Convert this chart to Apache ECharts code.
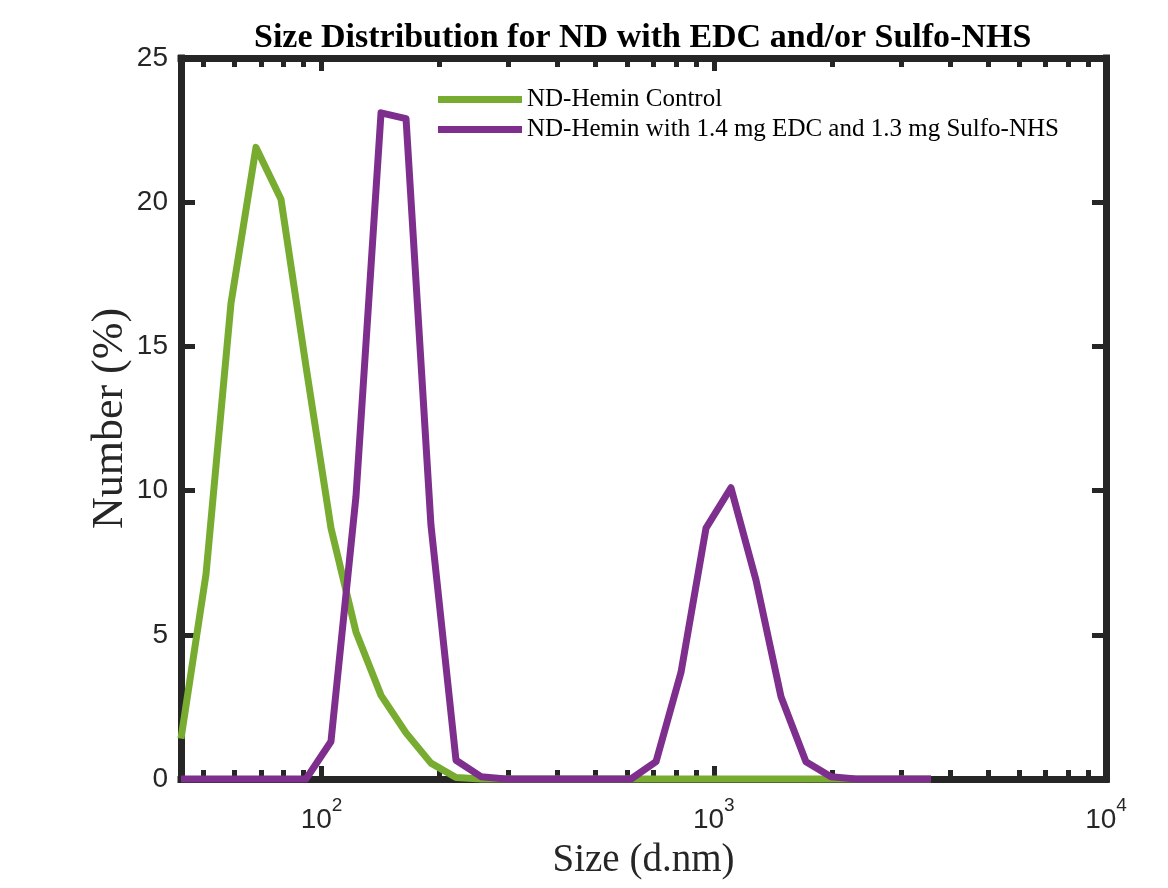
<!DOCTYPE html>
<html lang="en">
<head>
    <meta charset="UTF-8">
    <title>Size Distribution</title>
    <script src="https://cdn.jsdelivr.net/npm/echarts@6/dist/echarts.min.js"></script>
    <style>
        html, body { margin: 0; padding: 0; background: #fff; }
    </style>
</head>
<body>
    <div id="chart" style="width: 1168px; height: 888px;"></div>

    <script>
        // size bins (d.nm) of the instrument
        var sizes = [43.82, 50.75, 58.77, 68.06, 78.82, 91.28, 105.7, 122.4, 141.8, 164.2,
            190.1, 220.2, 255.0, 295.3, 342.0, 396.1, 458.7, 531.2, 615.1, 712.4,
            825.0, 955.4, 1106, 1281, 1484, 1718, 1990, 2305, 2669, 3091, 3580];

        // Number (%) per bin
        var control = [1.4, 7.1, 16.5, 21.9, 20.1, 14.3, 8.7, 5.1, 2.9, 1.6,
            0.55, 0.05, 0, 0, 0, 0, 0, 0, 0, 0,
            0, 0, 0, 0, 0, 0, 0, 0, 0, 0, 0];
        var withEdc = [0, 0, 0, 0, 0, 0, 1.3, 9.8, 23.1, 22.9,
            8.8, 0.65, 0.08, 0, 0, 0, 0, 0, 0, 0.6,
            3.7, 8.7, 10.1, 6.9, 2.85, 0.6, 0.08, 0, 0, 0, 0];

        var seriesNames = ['ND-Hemin Control', 'ND-Hemin with 1.4 mg EDC and 1.3 mg Sulfo-NHS'];

        var majorTicks = [100, 1000, 10000];
        var minorTicks = [50, 60, 70, 80, 90, 200, 300, 400, 500, 600, 700, 800, 900,
            2000, 3000, 4000, 5000, 6000, 7000, 8000, 9000];

        var axisColor = '#262626';
        var xMin = 43.82, xMax = 10000;

        function pairs(ys) {
            return sizes.map(function (s, i) { return [s, ys[i]]; });
        }

        function tickAxis(pos, values, len, showLine, extra) {
            var a = {
                type: 'log',
                logBase: 10,
                position: pos,
                min: xMin,
                max: xMax,
                axisLine: { show: showLine, lineStyle: { color: axisColor, width: 7, cap: 'square' } },
                axisTick: { show: true, inside: true, length: len, customValues: values,
                    lineStyle: { color: axisColor, width: 5 } },
                axisLabel: { show: false },
                splitLine: { show: false },
                minorTick: { show: false }
            };
            return Object.assign(a, extra || {});
        }

        var chart = echarts.init(document.getElementById('chart'));

        var option = {
            animation: false,
            backgroundColor: '#fff',
            title: {
                text: 'Size Distribution for ND with EDC and/or Sulfo-NHS',
                left: 254,
                top: 21,
                padding: 0,
                textStyle: { fontFamily: 'Liberation Serif', fontWeight: 'bold', fontSize: 34, color: '#000' }
            },
            legend: {
                orient: 'vertical',
                left: 438,
                top: 87,
                padding: 0,
                itemWidth: 84,
                itemHeight: 7,
                itemGap: 5,
                icon: 'rect',
                textStyle: { fontFamily: 'Liberation Serif', fontSize: 25, color: '#000', lineHeight: 25 },
                data: seriesNames
            },
            grid: { left: 181, right: 62, top: 58, bottom: 109 },
            xAxis: [
                tickAxis('bottom', majorTicks, 13, true, {
                    name: 'Size (d.nm)',
                    nameLocation: 'middle',
                    nameGap: 62,
                    nameTextStyle: { fontFamily: 'Liberation Serif', fontSize: 39, color: axisColor },
                    axisLabel: {
                        show: true,
                        customValues: majorTicks,
                        margin: 17,
                        formatter: function (v) {
                            return '{b|10}{s|' + Math.round(Math.log10(v)) + '}';
                        },
                        rich: {
                            b: { fontFamily: 'Liberation Sans', fontSize: 28, color: axisColor, verticalAlign: 'bottom', lineHeight: 38 },
                            s: { fontFamily: 'Liberation Sans', fontSize: 19, color: axisColor, verticalAlign: 'top', lineHeight: 38 }
                        }
                    }
                }),
                tickAxis('bottom', minorTicks, 9, false),
                tickAxis('top', majorTicks, 13, true),
                tickAxis('top', minorTicks, 9, false)
            ],
            yAxis: [
                {
                    type: 'value',
                    position: 'left',
                    min: 0,
                    max: 25,
                    interval: 5,
                    name: 'Number (%)',
                    nameLocation: 'middle',
                    nameGap: 49,
                    nameMoveOverlap: false,
                    nameTextStyle: { fontFamily: 'Liberation Serif', fontSize: 44, color: axisColor },
                    axisLine: { show: true, lineStyle: { color: axisColor, width: 7, cap: 'square' } },
                    axisTick: { show: true, inside: true, length: 14, lineStyle: { color: axisColor, width: 5 } },
                    axisLabel: { fontFamily: 'Liberation Sans', fontSize: 28, color: axisColor, margin: 13 },
                    splitLine: { show: false }
                },
                {
                    type: 'value',
                    position: 'right',
                    min: 0,
                    max: 25,
                    interval: 5,
                    axisLine: { show: true, lineStyle: { color: axisColor, width: 7, cap: 'square' } },
                    axisTick: { show: true, inside: true, length: 14, lineStyle: { color: axisColor, width: 5 } },
                    axisLabel: { show: false },
                    splitLine: { show: false }
                }
            ],
            series: [
                {
                    name: seriesNames[0],
                    type: 'line',
                    data: pairs(control),
                    showSymbol: false,
                    symbol: 'none',
                    clip: false,
                    color: '#77AC30',
                    lineStyle: { width: 7, color: '#77AC30', join: 'round' }
                },
                {
                    name: seriesNames[1],
                    type: 'line',
                    data: pairs(withEdc),
                    showSymbol: false,
                    symbol: 'none',
                    clip: false,
                    color: '#7E2F8E',
                    lineStyle: { width: 7, color: '#7E2F8E', join: 'round' }
                }
            ]
        };

        chart.setOption(option);
    </script>
</body>
</html>
